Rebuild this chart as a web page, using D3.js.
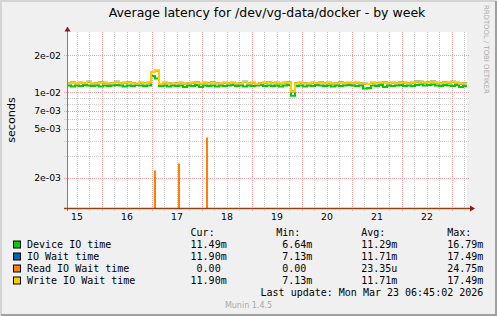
<!DOCTYPE html>
<html>
<head>
<meta charset="utf-8">
<script src="https://cdn.jsdelivr.net/npm/d3@7"></script>
<style>
  body { margin: 0; background: #f0f0f0; }
  svg { display: block; }
</style>
</head>
<body>
<div id="chart"></div>
<script>
// graph window (UTC), 100 samples of ~1.9h each
const graphStart = '2026-03-15T07:15:00Z';
const graphEnd = '2026-03-23T07:15:00Z';

// milliseconds
const deviceMs = [
  11.3, 11.1, 11.3, 11.2, 11.4, 11.3, 11.2, 11.3, 11.1, 11.3,
  11.2, 11.3, 11.4, 11.3, 11.1, 11.3, 11.2, 11.4, 11.3, 11.2,
  11.3, 13.5, 12.9, 11.2, 11.3, 11.1, 11.3, 11.2, 11.3, 11.0,
  11.3, 11.2, 11.4, 11.0, 11.3, 11.2, 11.3, 11.1, 11.3, 11.2,
  11.3, 11.4, 11.2, 11.3, 11.1, 11.3, 11.2, 11.3, 11.4, 11.2,
  11.3, 11.2, 11.3, 11.1, 11.3, 11.4, 9.3, 11.2, 11.3, 11.1,
  11.3, 11.2, 11.4, 11.3, 11.2, 11.3, 11.1, 11.3, 11.2, 11.3,
  11.4, 11.3, 11.2, 11.3, 10.7, 10.8, 11.3, 11.2, 11.4, 11.0,
  11.3, 11.2, 11.3, 11.4, 11.2, 11.3, 11.2, 11.4, 11.5, 11.3,
  11.4, 11.5, 11.3, 11.2, 11.4, 11.3, 11.2, 11.4, 11.0, 11.2
];
const writeWaitMs = [
  11.8, 12.0, 11.7, 11.9, 11.8, 12.1, 11.7, 11.8, 12.0, 11.9,
  11.7, 11.8, 12.1, 11.8, 11.9, 12.0, 11.8, 11.7, 11.9, 11.8,
  11.9, 14.6, 14.9, 11.6, 11.9, 11.8, 11.7, 11.8, 11.9, 11.7,
  11.8, 11.9, 12.0, 11.7, 11.9, 11.8, 12.0, 11.8, 11.7, 11.9,
  11.8, 11.9, 11.7, 11.8, 12.1, 11.8, 11.9, 11.6, 11.8, 11.9,
  12.0, 11.8, 11.9, 11.7, 11.9, 12.0, 10.1, 11.8, 11.9, 11.8,
  11.7, 11.9, 11.8, 12.0, 11.8, 11.9, 11.7, 11.8, 12.0, 11.8,
  11.9, 11.8, 11.9, 11.8, 11.7, 11.6, 11.9, 11.8, 11.9, 12.0,
  11.8, 11.9, 11.8, 12.0, 11.9, 11.8, 11.9, 12.2, 12.1, 11.9,
  12.0, 12.2, 11.9, 11.8, 12.0, 11.9, 12.1, 11.9, 11.7, 11.8
];
// IO wait equals write wait here (same cur/min/avg/max)
const ioWaitMs = writeWaitMs;
// read wait is zero apart from three short bursts
const readSpikeTimes = ['2026-03-17T01:30:00Z', '2026-03-17T13:00:00Z', '2026-03-18T02:25:00Z'];
const readSpikeMs = [2.29, 2.61, 4.25];

const yTickVals = [2e-2, 1e-2, 7e-3, 5e-3, 2e-3];

const legendNames = ['Device IO time', 'IO Wait time', 'Read IO Wait time', 'Write IO Wait time'];
const legendColors = ['#00cc00', '#0066b3', '#ff8000', '#ffcc00'];
const legendCur = ['11.49m', '11.90m', '0.00', '11.90m'];
const legendMin = ['6.64m', '7.13m', '0.00', '7.13m'];
const legendAvg = ['11.29m', '11.71m', '23.35u', '11.71m'];
const legendMax = ['16.79m', '17.49m', '24.75m', '17.49m'];

const W = 497, H = 316;
const pLeft = 67, pRight = 467, pTop = 32, pBottom = 208;
const sans = 'DejaVu Sans, sans-serif';
const mono = 'DejaVu Sans Mono, monospace';

const svg = d3.select('#chart').append('svg')
  .attr('width', W)
  .attr('height', H);

svg.append('rect').attr('width', W).attr('height', H).attr('fill', '#f0f0f0');
// frame shading
svg.append('path').attr('d', 'M1,' + (H - 1) + 'V1H' + (W - 1))
  .attr('fill', 'none').attr('stroke', '#d4d4d4').attr('stroke-width', 2);
svg.append('path').attr('d', 'M1,' + (H - 1) + 'H' + (W - 1) + 'V1')
  .attr('fill', 'none').attr('stroke', '#a0a0a0').attr('stroke-width', 2);

svg.append('rect')
  .attr('x', pLeft).attr('y', pTop)
  .attr('width', pRight - pLeft).attr('height', pBottom - pTop)
  .attr('fill', '#ffffff');

const x = d3.scaleUtc()
  .domain([new Date(graphStart), new Date(graphEnd)])
  .range([pLeft, pRight]);

const y = d3.scaleLog()
  .domain([1.13e-3, 3.09e-2])
  .range([pBottom, pTop]);

const grid = svg.append('g').attr('shape-rendering', 'crispEdges');

// minor grid: every 6 hours, and 1..9 per decade
const minorTimes = d3.utcHour.every(6).range(x.domain()[0], x.domain()[1]);
grid.selectAll('.vminor').data(minorTimes).enter().append('line')
  .attr('x1', d => Math.round(x(d)) + 0.5).attr('x2', d => Math.round(x(d)) + 0.5)
  .attr('y1', pTop).attr('y2', pBottom + 3)
  .attr('stroke', '#cccccc').attr('stroke-dasharray', '1,1');

const minorVals = [];
[1e-3, 1e-2].forEach(dec => {
  for (let k = 1; k <= 9; k++) {
    const v = k * dec;
    if (v > y.domain()[0] && y(v) > pTop + 2) minorVals.push(v);
  }
});
grid.selectAll('.hminor').data(minorVals).enter().append('line')
  .attr('x1', pLeft - 3).attr('x2', pRight + 3)
  .attr('y1', d => Math.round(y(d)) + 0.5).attr('y2', d => Math.round(y(d)) + 0.5)
  .attr('stroke', '#cccccc').attr('stroke-dasharray', '1,1');

// major grid: midnights and labelled values
const days = d3.utcDay.range(x.domain()[0], x.domain()[1]);
grid.selectAll('.vmajor').data(days).enter().append('line')
  .attr('x1', d => Math.round(x(d)) + 0.5).attr('x2', d => Math.round(x(d)) + 0.5)
  .attr('y1', pTop).attr('y2', pBottom + 3)
  .attr('stroke', '#eea0a0').attr('stroke-dasharray', '1,1');

grid.selectAll('.hmajor').data(yTickVals).enter().append('line')
  .attr('x1', pLeft - 3).attr('x2', pRight + 3)
  .attr('y1', d => Math.round(y(d)) + 0.5).attr('y2', d => Math.round(y(d)) + 0.5)
  .attr('stroke', '#eea0a0').attr('stroke-dasharray', '1,1');

// y labels
svg.selectAll('.ylab').data(yTickVals).enter().append('text')
  .attr('x', pLeft - 6)
  .attr('y', d => y(d) + 3.5)
  .attr('text-anchor', 'end')
  .attr('font-family', sans).attr('font-size', '9.3px')
  .attr('fill', '#000')
  .text(d => d.toExponential(0).replace(/e([+-])(\d)$/, 'e$10$2'));

// x labels at noon of each whole day shown
const noons = days.map(d => d3.utcHour.offset(d, -12)).filter(d => d >= x.domain()[0]);
svg.selectAll('.xlab').data(noons).enter().append('text')
  .attr('x', d => x(d))
  .attr('y', pBottom + 12)
  .attr('text-anchor', 'middle')
  .attr('font-family', sans).attr('font-size', '9.3px')
  .attr('fill', '#000')
  .text(d => d3.utcFormat('%-d')(d));

// series
svg.append('clipPath').attr('id', 'plotclip')
  .append('rect').attr('x', pLeft).attr('y', pTop).attr('width', pRight - pLeft).attr('height', pBottom - pTop);

const plot = svg.append('g').attr('clip-path', 'url(#plotclip)');
const step = (new Date(graphEnd) - new Date(graphStart)) / deviceMs.length;

function toPoints(arr) {
  const pts = arr.map((v, i) => ({ t: new Date(+new Date(graphStart) + i * step), v: v / 1000 }));
  pts.push({ t: new Date(graphEnd), v: arr[arr.length - 1] / 1000 });
  return pts;
}

const line = d3.line()
  .x(d => x(d.t))
  .y(d => y(d.v))
  .curve(d3.curveStepAfter);

plot.append('path').datum(toPoints(deviceMs))
  .attr('d', line).attr('fill', 'none').attr('stroke', legendColors[0]).attr('stroke-width', 2);
plot.append('path').datum(toPoints(ioWaitMs))
  .attr('d', line).attr('fill', 'none').attr('stroke', legendColors[1]).attr('stroke-width', 2);

plot.selectAll('.read').data(readSpikeTimes).enter().append('line')
  .attr('x1', d => Math.round(x(new Date(d))))
  .attr('x2', d => Math.round(x(new Date(d))))
  .attr('y1', pBottom)
  .attr('y2', (d, i) => y(readSpikeMs[i] / 1000))
  .attr('stroke', legendColors[2]).attr('stroke-width', 2);

plot.append('path').datum(toPoints(writeWaitMs))
  .attr('d', line).attr('fill', 'none').attr('stroke', legendColors[3]).attr('stroke-width', 2);

// axes
svg.append('line').attr('x1', pLeft + 0.5).attr('x2', pLeft + 0.5).attr('y1', 29).attr('y2', pBottom + 3)
  .attr('stroke', '#808080').attr('stroke-width', 1);
svg.append('line').attr('x1', pLeft - 3).attr('x2', pRight + 4).attr('y1', pBottom + 0.5).attr('y2', pBottom + 0.5)
  .attr('stroke', '#8b4513').attr('stroke-width', 1.5);
svg.append('path').attr('d', 'M' + (pLeft - 2.5) + ',31.5L' + (pLeft + 0.5) + ',26.5L' + (pLeft + 3.5) + ',31.5Z')
  .attr('fill', '#8b1a1a');
svg.append('path').attr('d', 'M' + (pRight + 3) + ',' + (pBottom - 2.5) + 'L' + (pRight + 8) + ',' + (pBottom + 0.5) + 'L' + (pRight + 3) + ',' + (pBottom + 3.5) + 'Z')
  .attr('fill', '#8b1a1a');

// titles
svg.append('text')
  .attr('x', 267).attr('y', 17)
  .attr('text-anchor', 'middle')
  .attr('font-family', sans).attr('font-size', '12.5px')
  .text('Average latency for /dev/vg-data/docker - by week');

svg.append('text')
  .attr('transform', 'translate(15,120) rotate(-90)')
  .attr('text-anchor', 'middle')
  .attr('font-family', sans).attr('font-size', '11.2px')
  .text('seconds');

svg.append('text')
  .attr('transform', 'translate(484,5) rotate(90)')
  .attr('font-family', sans).attr('font-size', '6.9px')
  .attr('fill', '#aaaaaa')
  .text('RRDTOOL / TOBI OETIKER');

// legend
const colEnds = [226.7, 312.3, 397.3, 483.3];
const colHeads = ['Cur:', 'Min:', 'Avg:', 'Max:'];
const charW = 6.02;
const legendFont = g => g.attr('font-family', mono).attr('font-size', '10px').attr('fill', '#000');

colHeads.forEach((h, c) => {
  svg.append('text').attr('x', colEnds[c] - 6 * charW).attr('y', 236).call(legendFont).text(h);
});

const cols = [legendCur, legendMin, legendAvg, legendMax];
legendNames.forEach((name, i) => {
  const yy = 247.5 + i * 12;
  svg.append('rect')
    .attr('x', 13.5).attr('y', yy - 6.5).attr('width', 7).attr('height', 7)
    .attr('fill', legendColors[i]).attr('stroke', '#000').attr('stroke-width', 1);
  svg.append('text').attr('x', 27).attr('y', yy).call(legendFont).text(name);
  cols.forEach((col, c) => {
    const s = col[i];
    const hasUnit = /[a-zA-Z]$/.test(s);
    svg.append('text')
      .attr('x', colEnds[c] - (hasUnit ? 0 : charW))
      .attr('y', yy)
      .attr('text-anchor', 'end')
      .call(legendFont)
      .text(s);
  });
});

svg.append('text')
  .attr('x', colEnds[3]).attr('y', 296)
  .attr('text-anchor', 'end')
  .call(legendFont)
  .text('Last update: Mon Mar 23 06:45:02 2026');

svg.append('text')
  .attr('x', 248.5).attr('y', 308)
  .attr('text-anchor', 'middle')
  .attr('font-family', sans).attr('font-size', '8px')
  .attr('fill', '#aaaaaa')
  .text('Munin 1.4.5');
</script>
</body>
</html>
